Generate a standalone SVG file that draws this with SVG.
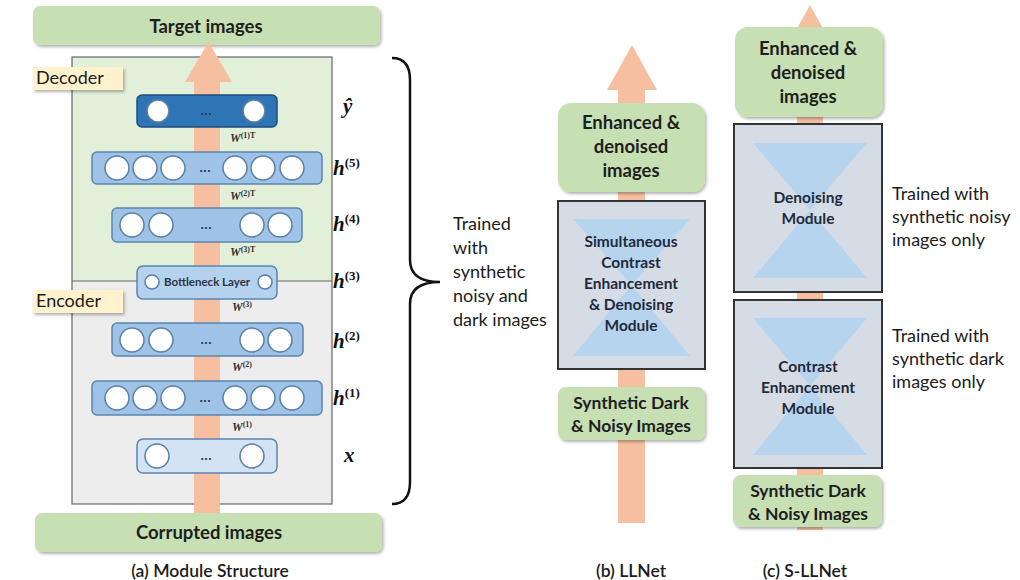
<svg xmlns="http://www.w3.org/2000/svg" width="1020" height="580" viewBox="0 0 1020 580">
<defs>
  <filter id="sh" x="-10%" y="-20%" width="125%" height="150%">
    <feDropShadow dx="1.5" dy="2" stdDeviation="1.5" flood-color="#000" flood-opacity="0.3"/>
  </filter>
  <style>
    .g{fill:#c6dfb3;filter:url(#sh)}
    .t{font-family:Lato,"Open Sans",sans-serif;fill:#1c1c1c}
    .tb{font-family:Lato,"Open Sans",sans-serif;font-weight:bold;fill:#1e1e1e;text-anchor:middle}
    .mt{font-family:Lato,"Open Sans",sans-serif;font-weight:bold;fill:#1f2b3b;text-anchor:middle;font-size:15.5px}
    .cap{font-family:Lato,"Open Sans",sans-serif;font-weight:600;fill:#1c1c1c;text-anchor:middle;font-size:17.5px}
    .lab{fill:#fff2cc;filter:url(#sh)}
    .lyr{fill:#9fc3e7;stroke:#5b85b0;stroke-width:1.5}
    .c{fill:#fff;stroke:#5b7fa6;stroke-width:1.5}
    .dots{font-family:"DejaVu Sans",sans-serif;font-weight:bold;font-size:10px;fill:#2a3a55;text-anchor:middle}
    .m{font-family:"Liberation Serif",serif;font-weight:bold;font-style:italic;fill:#111;font-size:21px}
    .sup{font-style:normal;font-size:13px}
    .w{font-family:"Liberation Serif",serif;font-weight:bold;font-style:italic;fill:#333;font-size:12px}
    .ws{font-size:8px;font-style:normal}
    .mod{fill:#d5dce6;stroke:#333;stroke-width:2}
    .hg{fill:#b7d4ef}
    .arr{fill:#f6c0a0}
  </style>
</defs>
<rect width="1020" height="580" fill="#fff"/>

<!-- panel (a) background regions -->
<g id="module-frame">
  <rect x="72" y="57" width="260" height="224" fill="#e2efd9"/>
  <rect x="72" y="281" width="260" height="223" fill="#ededed"/>
  <rect x="72" y="57" width="260" height="447" fill="none" stroke="#666" stroke-width="1.2"/>
  <line x1="72" y1="281" x2="332" y2="281" stroke="#666" stroke-width="1.2"/>
</g>

<g id="target-images">
  <rect class="g" x="33" y="6" width="347" height="39" rx="7"/>
  <text class="tb" x="206" y="33" font-size="18.5">Target images</text>
</g>

<!-- connectors (flow arrows) -->
<g id="connectors">
  <path class="arr" d="M194,513 L194,82 L185,82 L208.5,42 L232,82 L220,82 L220,513 Z"/>
  <path class="arr" d="M618,523 L618,90 L607,90 L632,45 L657,90 L645,90 L645,523 Z"/>
  <path class="arr" d="M797,530 L797,50 L785,50 L810,5 L835,50 L823,50 L823,530 Z"/>
</g>

<g id="decoder-label">
  <rect class="lab" x="33" y="67" width="90" height="23"/>
  <text class="t" x="36" y="84" font-size="18">Decoder</text>
</g>
<g id="encoder-label">
  <rect class="lab" x="33" y="290" width="90" height="23"/>
  <text class="t" x="36" y="307" font-size="18">Encoder</text>
</g>

<!-- layers -->
<g id="layer-yhat">
  <rect x="137" y="95" width="140" height="32" rx="5" fill="#2e75b6" stroke="#1f4e79" stroke-width="1.5"/>
  <circle class="c" cx="158" cy="111" r="11" stroke="#1f4e79"/>
  <circle class="c" cx="254" cy="111" r="11" stroke="#1f4e79"/>
  <text class="dots" x="206" y="115">...</text>
</g>
<g id="layer-h5">
  <rect class="lyr" x="92" y="152" width="230" height="32" rx="5"/>
  <circle class="c" cx="117" cy="168" r="12"/>
  <circle class="c" cx="145" cy="168" r="12"/>
  <circle class="c" cx="173" cy="168" r="12"/>
  <circle class="c" cx="235" cy="168" r="12"/>
  <circle class="c" cx="263" cy="168" r="12"/>
  <circle class="c" cx="292" cy="168" r="12"/>
  <text class="dots" x="205" y="172">...</text>
</g>
<g id="layer-h4">
  <rect class="lyr" x="112" y="208" width="190" height="34" rx="5"/>
  <circle class="c" cx="132" cy="225" r="12"/>
  <circle class="c" cx="161" cy="225" r="12"/>
  <circle class="c" cx="252" cy="225" r="12"/>
  <circle class="c" cx="280" cy="225" r="12"/>
  <text class="dots" x="206" y="229">...</text>
</g>
<g id="layer-h3">
  <rect x="137" y="266" width="140" height="33" rx="6" fill="#b4d1ee" stroke="#5b85b0" stroke-width="1.5"/>
  <circle class="c" cx="152" cy="282" r="7"/>
  <circle class="c" cx="265" cy="282" r="7"/>
  <text x="207" y="286" font-family="Lato,'Open Sans',sans-serif" font-weight="bold" font-size="11.5" fill="#2b3545" text-anchor="middle">Bottleneck Layer</text>
</g>
<g id="layer-h2">
  <rect class="lyr" x="112" y="323" width="191" height="33" rx="5"/>
  <circle class="c" cx="132" cy="340" r="12"/>
  <circle class="c" cx="161" cy="340" r="12"/>
  <circle class="c" cx="252" cy="340" r="12"/>
  <circle class="c" cx="280" cy="340" r="12"/>
  <text class="dots" x="206" y="344">...</text>
</g>
<g id="layer-h1">
  <rect class="lyr" x="92" y="381" width="230" height="34" rx="5"/>
  <circle class="c" cx="117" cy="398" r="12"/>
  <circle class="c" cx="145" cy="398" r="12"/>
  <circle class="c" cx="173" cy="398" r="12"/>
  <circle class="c" cx="235" cy="398" r="12"/>
  <circle class="c" cx="263" cy="398" r="12"/>
  <circle class="c" cx="292" cy="398" r="12"/>
  <text class="dots" x="205" y="402">...</text>
</g>
<g id="layer-x">
  <rect x="137" y="439" width="140" height="34" rx="6" fill="#d3e3f3" stroke="#5b85b0" stroke-width="1.5"/>
  <circle class="c" cx="157" cy="456" r="12"/>
  <circle class="c" cx="252" cy="456" r="12"/>
  <text class="dots" x="206" y="460">...</text>
</g>

<!-- weight labels -->
<g id="weights">
  <text class="w" x="230" y="142">W<tspan class="ws" dy="-4">(1)T</tspan></text>
  <text class="w" x="230" y="200">W<tspan class="ws" dy="-4">(2)T</tspan></text>
  <text class="w" x="230" y="256">W<tspan class="ws" dy="-4">(3)T</tspan></text>
  <text class="w" x="232" y="311">W<tspan class="ws" dy="-4">(3)</tspan></text>
  <text class="w" x="232" y="371">W<tspan class="ws" dy="-4">(2)</tspan></text>
  <text class="w" x="232" y="431">W<tspan class="ws" dy="-4">(1)</tspan></text>
</g>

<!-- layer names -->
<g id="layer-names">
  <text class="m" x="343" y="113">ŷ</text>
  <text class="m" x="333" y="175">h<tspan class="sup" dy="-8">(5)</tspan></text>
  <text class="m" x="333" y="231">h<tspan class="sup" dy="-8">(4)</tspan></text>
  <text class="m" x="333" y="288">h<tspan class="sup" dy="-8">(3)</tspan></text>
  <text class="m" x="333" y="348">h<tspan class="sup" dy="-8">(2)</tspan></text>
  <text class="m" x="333" y="405">h<tspan class="sup" dy="-8">(1)</tspan></text>
  <text class="m" x="344" y="462">x</text>
</g>

<g id="corrupted-images">
  <rect class="g" x="35" y="513" width="347" height="39" rx="7"/>
  <text class="tb" x="209" y="539" font-size="18.5">Corrupted images</text>
</g>
<text class="cap" x="210" y="577">(a) Module Structure</text>

<!-- brace -->
<g id="brace">
  <path d="M392,58 Q410,58 410,80 L410,260 Q410,282 440,282 Q410,282 410,304 L410,482 Q410,504 392,504" fill="none" stroke="#111" stroke-width="2.5"/>
  <text class="t" font-size="18">
    <tspan x="453" y="230">Trained</tspan>
    <tspan x="453" y="254">with</tspan>
    <tspan x="453" y="278">synthetic</tspan>
    <tspan x="453" y="302">noisy and</tspan>
    <tspan x="453" y="326">dark images</tspan>
  </text>
</g>

<!-- panel (b) -->
<g id="b-output">
  <rect class="g" x="558" y="103" width="147" height="89" rx="13"/>
  <text class="tb" font-size="18.5"><tspan x="631" y="129">Enhanced &amp;</tspan><tspan x="631" y="153">denoised</tspan><tspan x="631" y="177">images</tspan></text>
</g>
<g id="b-module">
  <rect class="mod" x="558" y="201" width="147" height="168"/>
  <path class="hg" d="M573,219 L690,219 L631.5,285 L690,356 L573,356 L631.5,285 Z"/>
  <text class="mt"><tspan x="631" y="247">Simultaneous</tspan><tspan x="631" y="268">Contrast</tspan><tspan x="631" y="289">Enhancement</tspan><tspan x="631" y="310">&amp; Denoising</tspan><tspan x="631" y="331">Module</tspan></text>
</g>
<g id="b-input">
  <rect class="g" x="558" y="387" width="147" height="53" rx="8"/>
  <text class="tb" font-size="17.5"><tspan x="631" y="409">Synthetic Dark</tspan><tspan x="631" y="432">&amp; Noisy Images</tspan></text>
</g>
<text class="cap" x="631" y="577">(b) LLNet</text>

<!-- panel (c) -->
<g id="c-output">
  <rect class="g" x="735" y="27" width="148" height="90" rx="13"/>
  <text class="tb" font-size="18.5"><tspan x="808" y="55">Enhanced &amp;</tspan><tspan x="808" y="79">denoised</tspan><tspan x="808" y="103">images</tspan></text>
</g>
<g id="c-denoise">
  <rect class="mod" x="734" y="124" width="148" height="168"/>
  <path class="hg" d="M753,143 L867,143 L810,210 L867,278 L753,278 L810,210 Z"/>
  <text class="mt"><tspan x="808" y="203">Denoising</tspan><tspan x="808" y="224">Module</tspan></text>
</g>
<g id="c-contrast">
  <rect class="mod" x="734" y="300" width="148" height="168"/>
  <path class="hg" d="M753,318 L867,318 L810,386 L867,455 L753,455 L810,386 Z"/>
  <text class="mt"><tspan x="808" y="372">Contrast</tspan><tspan x="808" y="393">Enhancement</tspan><tspan x="808" y="414">Module</tspan></text>
</g>
<g id="c-input">
  <rect class="g" x="733" y="475" width="149" height="52" rx="8"/>
  <text class="tb" font-size="17.5"><tspan x="808" y="497">Synthetic Dark</tspan><tspan x="808" y="520">&amp; Noisy Images</tspan></text>
</g>
<text class="cap" x="805" y="577">(c) S-LLNet</text>

<g id="notes">
  <text class="t" font-size="18"><tspan x="892" y="200">Trained with</tspan><tspan x="892" y="223">synthetic noisy</tspan><tspan x="892" y="246">images only</tspan></text>
  <text class="t" font-size="18"><tspan x="892" y="342">Trained with</tspan><tspan x="892" y="365">synthetic dark</tspan><tspan x="892" y="388">images only</tspan></text>
</g>
</svg>
